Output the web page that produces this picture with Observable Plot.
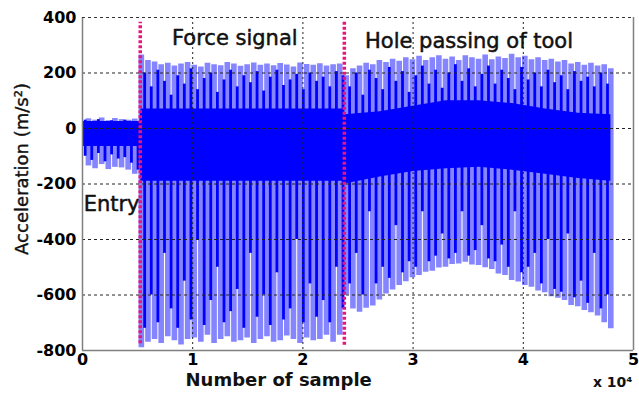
<!DOCTYPE html>
<html>
<head>
<meta charset="utf-8">
<script src="https://cdn.jsdelivr.net/npm/d3@7"></script>
<script src="https://cdn.jsdelivr.net/npm/@observablehq/plot@0.6"></script>
<style>
  html, body { margin: 0; padding: 0; background: #fff; }
  #chart svg { display: block; }
  g[aria-label="x-axis tick label"] text, g[aria-label="y-axis tick label"] text { font-weight: bold; }
</style>
</head>
<body>
<div id="chart"></div>
<script>
// ---- Data (sample index, acceleration m/s^2) ----
const xTicks = [0, 10000, 20000, 30000, 40000, 50000];
const yTicks = [-800, -600, -400, -200, 0, 200, 400];
const xGridVals = [10000, 20000, 30000, 40000];
const yGridVals = [-600, -400, -200, 0, 200];

// light-blue oscillation bursts: sample position, min, max
const lightX = [540,1140,1740,2340,2940,3540,4140,4740,5340,5940,6540,7140,7740,8340,8940,9540,10140,10740,11340,11940,12540,13140,13740,14340,14940,15540,16140,16740,17340,17940,18540,19140,19740,20340,20940,21540,22140,22740,23340,23940,24540,25140,25740,26340,26940,27540,28140,28740,29340,29940,30540,31140,31740,32340,32940,33540,34140,34740,35340,35940,36540,37140,37740,38340,38940,39540,40140,40740,41340,41940,42540,43140,43740,44340,44940,45540,46140,46740,47340,47940];
const lightHi = [35,30,38,28,36,32,30,34,
  265,245,240,230,235,225,232,238,228,222,235,230,226,238,232,224,230,236,228,232,226,234,229,222,236,231,228,233,225,230,232,
  190,215,225,235,230,245,238,250,242,255,248,260,245,255,262,250,258,245,262,255,250,265,248,258,252,268,255,260,248,255,245,250,240,245,232,238,228,235,225,230,215];
const lightLo = [-135,-145,-130,-148,-140,-142,-150,-165,
  -790,-770,-760,-775,-750,-765,-780,-760,-755,-770,-745,-775,-760,-750,-770,-765,-755,-775,-760,-750,-770,-765,-748,-760,-775,-755,-765,-760,-745,-770,-745,
  -600,-650,-662,-648,-640,-618,-596,-582,-566,-552,-538,-530,-518,-514,-503,-500,-490,-488,-482,-492,-494,-502,-508,-524,-530,-548,-553,-566,-572,-586,-592,-606,-612,-620,-638,-642,-656,-664,-676,-700,-722];

// dark-blue dense strokes between bursts
const darkX = [240,840,1440,2040,2640,3240,3840,4440,5040,5640,6240,6840,7440,8040,8640,9240,9840,10440,11040,11640,12240,12840,13440,14040,14640,15240,15840,16440,17040,17640,18240,18840,19440,20040,20640,21240,21840,22440,23040,23640,24240,24840,25440,26040,26640,27240,27840,28440,29040,29640,30240,30840,31440,32040,32640,33240,33840,34440,35040,35640,36240,36840,37440,38040,38640,39240,39840,40440,41040,41640,42240,42840,43440,44040,44640,45240,45840,46440,47040,47640];
const darkHi = [30,22,32,18,28,24,30,26,20,
  200,150,210,170,120,190,160,215,140,180,200,130,175,210,150,190,165,205,135,185,210,155,175,195,140,200,170,185,150,205,190,
  150,200,120,210,180,140,220,170,205,130,190,225,160,210,145,200,230,170,215,150,195,225,160,210,180,140,220,175,200,150,210,165,190,140,205,170,185,150,200,160];
const darkLo = [-100,-115,-90,-120,-95,-110,-105,-125,-150,
  -720,-600,-700,-450,-650,-720,-550,-690,-400,-710,-620,-500,-700,-660,-580,-720,-450,-680,-600,-710,-520,-690,-650,-400,-700,-560,-680,-620,-700,-500,-650,
  -560,-450,-600,-300,-560,-500,-540,-350,-520,-480,-500,-300,-480,-460,-380,-470,-450,-300,-460,-440,-350,-470,-480,-420,-500,-300,-520,-500,-450,-560,-400,-580,-590,-380,-610,-550,-630,-450,-650,-600];

// dense core band of the signal
const coreX  = [0, 5200, 5300, 23700, 23800, 27000, 30000, 33000, 36000, 39000, 42000, 45000, 47950];
const coreHi = [25, 25, 70, 70, 50, 60, 80, 100, 100, 90, 70, 55, 50];
const coreLo = [-65, -65, -190, -190, -200, -175, -155, -145, -140, -150, -165, -180, -190];

// phase markers
const markerX = [5240, 23760];
const markerTop = [383, 383];
const markerBottom = [-776, -781];

// annotations
const noteText = ["Force signal", "Hole passing of tool", "Entry"];
const noteX = [13820, 35070, 2640];
const noteY = [324, 313, -274];

// ---- Build tables ----
const light = lightX.map((x, i) => ({x, lo: lightLo[i], hi: lightHi[i]}));
const dark = darkX.map((x, i) => ({x, lo: darkLo[i], hi: darkHi[i]}));
const core = coreX.map((x, i) => ({x, lo: coreLo[i], hi: coreHi[i]}));
const markers = markerX.map((x, i) => ({x, y1: markerBottom[i], y2: markerTop[i]}));
const notes = noteText.map((t, i) => ({t, x: noteX[i], y: noteY[i]}));

const xMin = xTicks[0], xMax = xTicks[xTicks.length - 1];
const yMin = yTicks[0], yMax = yTicks[yTicks.length - 1];

const chart = Plot.plot({
  width: 639,
  height: 398,
  marginLeft: 82,
  marginRight: 6,
  marginTop: 17,
  marginBottom: 48,
  x: {domain: [xMin, xMax]},
  y: {domain: [yMin, yMax]},
  style: {fontFamily: "DejaVu Sans", color: "#000", background: "#fff", overflow: "visible"},
  marks: [
    Plot.ruleX(light, {x: "x", y1: "lo", y2: "hi", stroke: "#8585ff", strokeWidth: 5.6}),
    Plot.areaY(core, {x: "x", y1: "lo", y2: "hi", fill: "#0000ff"}),
    Plot.ruleX(dark, {x: "x", y1: "lo", y2: "hi", stroke: "#0000ff", strokeWidth: 2.8}),
    Plot.gridY(yGridVals, {stroke: "#222", strokeOpacity: 1, strokeDasharray: "3,3"}),
    Plot.gridX(xGridVals, {stroke: "#222", strokeOpacity: 1, strokeDasharray: "2,3"}),
    Plot.ruleX(markers, {x: "x", y1: "y1", y2: "y2", stroke: "#e8157f", strokeWidth: 3.5, strokeDasharray: "3,2"}),
    // frame
    Plot.ruleX([xMin, xMax], {stroke: "#808080", strokeWidth: 1.5}),
    Plot.ruleY([yMin], {stroke: "#808080", strokeWidth: 1.5}),
    Plot.ruleY([yMax], {stroke: "#333", strokeWidth: 1, strokeDasharray: "3,3"}),
    // axes
    Plot.axisX({ticks: xTicks, tickFormat: d => String(d / 10000), tickSize: 0, tickPadding: 3, fontSize: 16, fontWeight: "bold", label: null}),
    Plot.axisY({ticks: yTicks, tickFormat: d => String(d), tickSize: 0, tickPadding: 6, fontSize: 16, fontWeight: "bold", label: null}),
    Plot.text(["Number of sample"], {x: 17800, frameAnchor: "bottom", dy: 35, fontSize: 18, fontWeight: "bold", fill: "#111"}),
    Plot.text(["x 10\u2074"], {frameAnchor: "bottom-right", textAnchor: "end", dx: -1, dy: 36, fontSize: 14, fontWeight: "bold", fill: "#111"}),
    Plot.text(["Acceleration (m/s\u00b2)"], {frameAnchor: "left", textAnchor: "middle", dx: -60, dy: -15, rotate: -90, fontSize: 18, fill: "#111", stroke: "#111", strokeWidth: 0.4}),
    Plot.text(notes, {x: "x", y: "y", text: "t", fontSize: 21, fill: "#111", stroke: "#111", strokeWidth: 0.5})
  ]
});

document.getElementById("chart").appendChild(chart);
</script>
</body>
</html>
